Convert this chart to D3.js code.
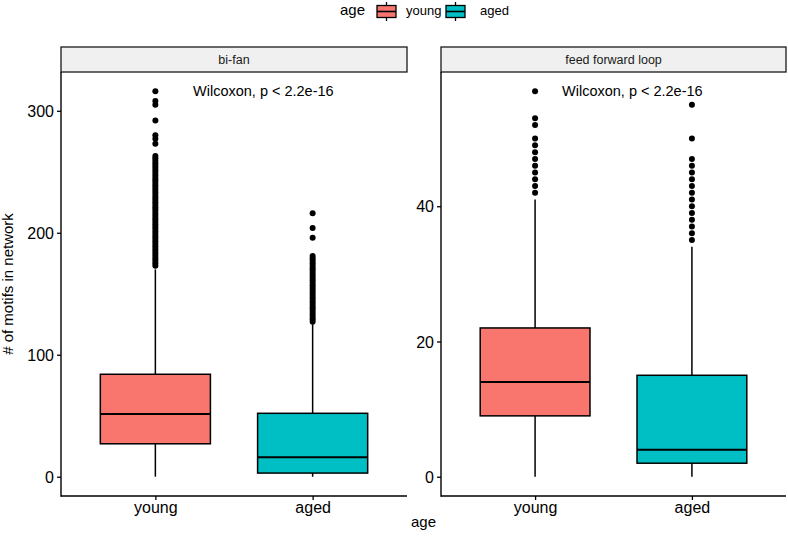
<!DOCTYPE html>
<html>
<head>
<meta charset="utf-8">
<script src="https://cdn.jsdelivr.net/npm/d3@7"></script>
<style>
  body { margin: 0; background: #fff; }
  text { font-family: "Liberation Sans", Arial, Helvetica, sans-serif; }
</style>
</head>
<body>
<script>

// groups and panels
var groups = ["young", "aged"];
var colors = ["#F8766D", "#00BFC4"];
var panels = ["bi-fan", "feed forward loop"];

// box stats per panel: [young, aged]
var whiskerLow = [[0, 0], [0, 0]];
var q1 = [[27, 3], [9, 2]];
var median = [[51.5, 16], [14, 4]];
var q3 = [[84, 52], [22, 15]];
var whiskerHigh = [[170, 125], [41, 34]];

// outliers
var outBifanYoung = [316, 308, 305, 292, 280, 277, 273, 263, 261, 259, 257, 255, 253, 251, 249,
  247, 245, 243, 241, 239, 237, 235, 233, 231, 229, 227, 225, 223, 221, 219, 217, 215, 213,
  211, 209, 207, 205, 203, 201, 199, 197, 195, 193, 191, 189, 187, 185, 183, 181, 179, 177,
  175, 173];
var outBifanAged = [216, 204, 196, 181, 179, 177, 175, 173, 171, 169, 167, 165, 163, 161, 159,
  157, 155, 153, 151, 149, 147, 145, 143, 141, 139, 137, 135, 133, 131, 129, 127];
var outFflYoung = [57, 53, 52, 50, 49, 48, 47, 46, 45, 44, 43, 42];
var outFflAged = [55, 50, 47, 46, 45, 44, 43, 42, 41, 40, 39, 38, 37, 36, 35];
var outliers = [[outBifanYoung, outBifanAged], [outFflYoung, outFflAged]];

// y ranges and ticks
var yMax = [316, 57];
var yTicks = [[0, 100, 200, 300], [0, 20, 40]];
var testLabel = "Wilcoxon, p < 2.2e-16";

var svgWidth = 788;
var svgHeight = 538;

var svg = d3.select("body").append("svg")
  .attr("width", svgWidth)
  .attr("height", svgHeight);

var panelLeft = [61, 441];
var panelRight = [407, 786];
var stripTop = 47;
var panelTop = 72;
var panelBottom = 496;
var labelOffset = [132, 121];
var lw = 1.5;

panels.forEach(function(name, p) {

  var x = d3.scalePoint()
    .domain(groups)
    .range([panelLeft[p], panelRight[p]])
    .padding(0.6);

  var pad = yMax[p] * 0.05;
  var y = d3.scaleLinear()
    .domain([-pad, yMax[p] + pad])
    .range([panelBottom, panelTop]);

  var boxW = x.step() * 0.7;

  var g = svg.append("g");

  // strip
  g.append("rect")
    .attr("x", panelLeft[p])
    .attr("y", stripTop)
    .attr("width", panelRight[p] - panelLeft[p])
    .attr("height", panelTop - stripTop)
    .attr("fill", "#f0f0f0")
    .attr("stroke", "#1a1a1a")
    .attr("stroke-width", 1.3);

  g.append("text")
    .attr("x", (panelLeft[p] + panelRight[p]) / 2)
    .attr("y", (stripTop + panelTop) / 2 + 4.5)
    .attr("text-anchor", "middle")
    .attr("font-size", "12.5px")
    .attr("fill", "#1a1a1a")
    .text(name);

  // whiskers
  g.selectAll(".whisker")
    .data(groups)
    .enter()
    .append("line")
    .attr("x1", d => x(d))
    .attr("x2", d => x(d))
    .attr("y1", (d, i) => y(whiskerLow[p][i]))
    .attr("y2", (d, i) => y(whiskerHigh[p][i]))
    .attr("stroke", "black")
    .attr("stroke-width", lw);

  // boxes
  g.selectAll(".box")
    .data(groups)
    .enter()
    .append("rect")
    .attr("x", d => x(d) - boxW / 2)
    .attr("y", (d, i) => y(q3[p][i]))
    .attr("width", boxW)
    .attr("height", (d, i) => y(q1[p][i]) - y(q3[p][i]))
    .attr("fill", (d, i) => colors[i])
    .attr("stroke", "black")
    .attr("stroke-width", lw);

  g.selectAll(".median")
    .data(groups)
    .enter()
    .append("line")
    .attr("x1", d => x(d) - boxW / 2)
    .attr("x2", d => x(d) + boxW / 2)
    .attr("y1", (d, i) => y(median[p][i]))
    .attr("y2", (d, i) => y(median[p][i]))
    .attr("stroke", "black")
    .attr("stroke-width", 2);

  // outlier points
  groups.forEach(function(grp, i) {
    g.selectAll(".out" + i)
      .data(outliers[p][i])
      .enter()
      .append("circle")
      .attr("cx", x(grp))
      .attr("cy", d => y(d))
      .attr("r", 3)
      .attr("fill", "black");
  });

  // axes
  var yAxis = g.append("g")
    .attr("transform", `translate(${panelLeft[p]}, 0)`)
    .call(d3.axisLeft(y).tickValues(yTicks[p]).tickSize(4).tickPadding(3));

  var xAxis = g.append("g")
    .attr("transform", `translate(0, ${panelBottom})`)
    .call(d3.axisBottom(x).tickSize(4).tickPadding(2));

  [yAxis, xAxis].forEach(function(ax) {
    ax.select(".domain").remove();
    ax.selectAll("line").attr("stroke", "black").attr("stroke-width", 1.3);
    ax.selectAll("text")
      .attr("font-size", "16px")
      .attr("fill", "black")
      .style("font-family", "'Liberation Sans', Arial, sans-serif");
  });
  yAxis.selectAll("text").attr("dy", "0.35em");

  g.append("line")
    .attr("x1", panelLeft[p]).attr("x2", panelLeft[p])
    .attr("y1", panelTop).attr("y2", panelBottom + 0.7)
    .attr("stroke", "black").attr("stroke-width", 1.4);
  g.append("line")
    .attr("x1", panelLeft[p]).attr("x2", panelRight[p])
    .attr("y1", panelBottom).attr("y2", panelBottom)
    .attr("stroke", "black").attr("stroke-width", 1.4);

  // test label
  g.append("text")
    .attr("x", panelLeft[p] + labelOffset[p])
    .attr("y", y(yMax[p]))
    .attr("dy", "0.35em")
    .attr("font-size", "14.5px")
    .attr("fill", "black")
    .text(testLabel);
});

// axis titles
svg.append("text")
  .attr("x", (panelLeft[0] + panelRight[1]) / 2)
  .attr("y", 527)
  .attr("text-anchor", "middle")
  .attr("font-size", "15px")
  .text("age");

svg.append("text")
  .attr("transform", "rotate(-90)")
  .attr("x", -(panelTop + panelBottom) / 2)
  .attr("y", 13)
  .attr("text-anchor", "middle")
  .attr("font-size", "15px")
  .text("# of motifs in network");

// legend
var legend = svg.append("g");

legend.append("text")
  .attr("x", 340)
  .attr("y", 15)
  .attr("font-size", "15px")
  .text("age");

var keyX = [377, 446];
var labelX = [406, 480];

groups.forEach(function(grp, i) {
  var cx = keyX[i] + 9.5;
  legend.append("line")
    .attr("x1", cx).attr("x2", cx)
    .attr("y1", 2).attr("y2", 21)
    .attr("stroke", "black").attr("stroke-width", 1.3);
  legend.append("rect")
    .attr("x", keyX[i])
    .attr("y", 5.5)
    .attr("width", 19)
    .attr("height", 12)
    .attr("fill", colors[i])
    .attr("stroke", "black")
    .attr("stroke-width", 1.3);
  legend.append("line")
    .attr("x1", keyX[i]).attr("x2", keyX[i] + 19)
    .attr("y1", 11.5).attr("y2", 11.5)
    .attr("stroke", "black").attr("stroke-width", 1.6);
  legend.append("text")
    .attr("x", labelX[i])
    .attr("y", 15)
    .attr("font-size", "13px")
    .text(grp);
});

</script>
</body>
</html>
